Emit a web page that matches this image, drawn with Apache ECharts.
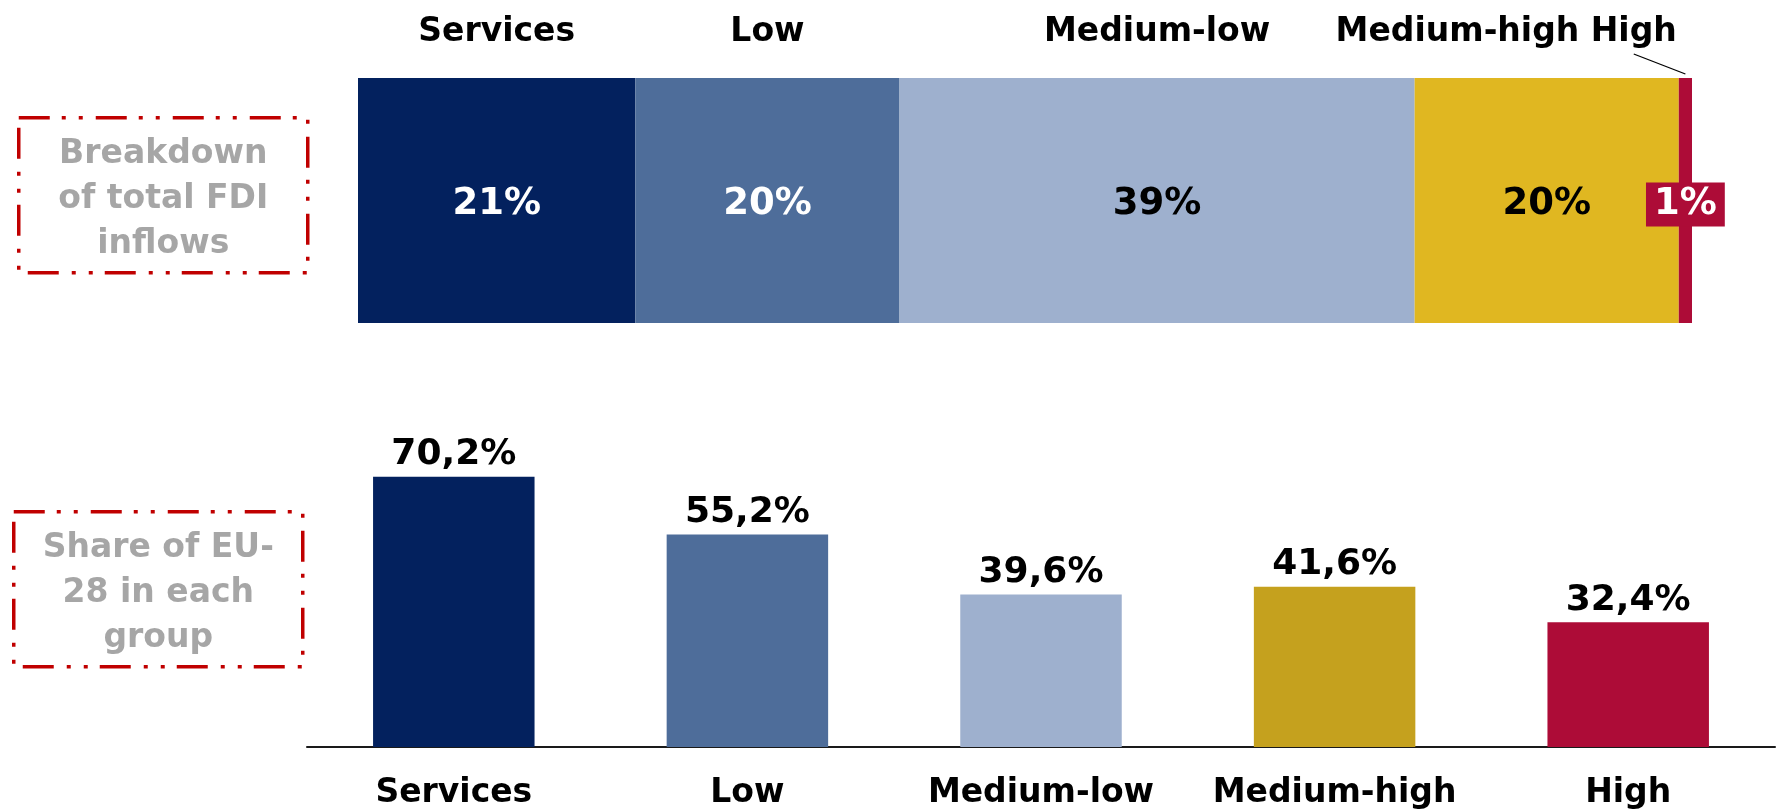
<!DOCTYPE html>
<html>
<head>
<meta charset="utf-8">
<title>FDI inflows by technology group</title>
<script src="https://cdn.jsdelivr.net/npm/echarts@6/dist/echarts.min.js"></script>
<style>
  html, body { margin: 0; padding: 0; background: #ffffff; }
  #chart { width: 1777px; height: 811px; }
</style>
</head>
<body>
<div id="chart"></div>
<script>
// Technology groups
const categories = ['Services', 'Low', 'Medium-low', 'Medium-high', 'High'];
// Breakdown of total FDI inflows (%)
const fdiShares = [21, 20, 39, 20, 1];
// Share of EU-28 in each group (%)
const euShares = [70.2, 55.2, 39.6, 41.6, 32.4];

const topColors = ['#03215e', '#4e6d9a', '#9eb0ce', '#e0b721', '#ad0c37'];
const bottomColors = ['#03215e', '#4e6d9a', '#9eb0ce', '#c5a11e', '#ad0c37'];
const insideLabelColors = ['#ffffff', '#ffffff', '#000000', '#000000', '#ffffff'];

const FONT = '"DejaVu Sans", Verdana, sans-serif';
const NAME_SIZE = 33;

const measureCtx = document.createElement('canvas').getContext('2d');
function textWidth(txt, size) {
  measureCtx.font = 'bold ' + size + 'px ' + FONT;
  return measureCtx.measureText(txt).width;
}

// cumulative start/end of every segment of the stacked bar
const segments = [];
let acc = 0;
fdiShares.forEach((v, i) => { segments.push([acc, acc + v, 0, i]); acc += v; });
const fdiTotal = acc;

const chart = echarts.init(document.getElementById('chart'), null, { renderer: 'canvas' });

const stackSeries = fdiShares.map((v, i) => {
  const last = i === fdiShares.length - 1;
  return {
    type: 'bar',
    name: categories[i],
    stack: 'fdi',
    xAxisIndex: 0,
    yAxisIndex: 0,
    barWidth: '100%',
    data: [v],
    itemStyle: { color: topColors[i] },
    label: {
      show: true,
      position: 'inside',
      offset: [0, 4],
      formatter: '{c}%',
      fontFamily: FONT,
      fontWeight: 'bold',
      fontSize: 37,
      color: insideLabelColors[i],
      backgroundColor: last ? topColors[i] : 'transparent',
      padding: last ? [4, 8, 3, 8] : 0
    },
    silent: true
  };
});

// Group names above the stacked bar; narrow segments get their names shifted left
const nameSeries = {
  type: 'custom',
  xAxisIndex: 0,
  yAxisIndex: 0,
  silent: true,
  z: 5,
  encode: { x: [0, 1], y: 2 },
  data: segments,
  renderItem: function (params, api) {
    const idx = api.value(3);
    const p0 = api.coord([api.value(0), 0]);
    const p1 = api.coord([api.value(1), 0]);
    const band = api.size([0, 1])[1];
    const barTop = p0[1] - band / 2;
    const textY = barTop - 46;
    const n = categories.length;
    const style = (x, align) => ({
      type: 'text',
      style: {
        x: x, y: textY,
        text: categories[idx],
        fill: '#000000',
        font: 'bold ' + NAME_SIZE + 'px ' + FONT,
        align: align,
        verticalAlign: 'middle'
      }
    });
    // last (narrow) segment: name right-aligned before the segment, with a leader line
    const lastP0 = api.coord([segments[n - 1][0], 0]);
    const lastRight = lastP0[0] - 2;
    const lastW = textWidth(categories[n - 1], NAME_SIZE);
    if (idx === n - 1) {
      const mid = (p0[0] + p1[0]) / 2;
      return {
        type: 'group',
        children: [
          style(lastRight, 'right'),
          {
            type: 'line',
            shape: { x1: lastRight - lastW / 2, y1: textY + 22, x2: mid, y2: barTop - 4 },
            style: { stroke: '#000000', lineWidth: 1.3 }
          }
        ]
      };
    }
    if (idx === n - 2) {
      const right = lastRight - lastW - textWidth(' ', NAME_SIZE);
      return style(right, 'right');
    }
    return style((p0[0] + p1[0]) / 2, 'center');
  }
};

function boxGraphic(left, top, width, height, lines) {
  return {
    type: 'group',
    left: left,
    top: top,
    children: [
      {
        type: 'rect',
        shape: { x: 0, y: 0, width: width, height: height },
        style: {
          fill: 'transparent',
          stroke: '#c00000',
          lineWidth: 3.5,
          lineDash: [31, 12, 4, 13, 4, 13]
        }
      },
      {
        type: 'text',
        x: width / 2,
        y: height / 2 + 4,
        style: {
          text: lines.join('\n'),
          fill: '#a6a6a6',
          font: 'bold 33px ' + FONT,
          align: 'center',
          verticalAlign: 'middle',
          lineHeight: 45
        }
      }
    ]
  };
}

const option = {
  animation: false,
  backgroundColor: '#ffffff',
  grid: [
    { left: 358, right: 85, top: 78, height: 245, outerBoundsMode: 'none', containLabel: false },
    { left: 307, right: 2, top: 362, bottom: 64, outerBoundsMode: 'none', containLabel: false }
  ],
  xAxis: [
    { type: 'value', gridIndex: 0, min: 0, max: fdiTotal, show: false },
    {
      type: 'category',
      gridIndex: 1,
      data: categories,
      axisLine: { show: true, lineStyle: { color: '#1a1a1a', width: 2 } },
      axisTick: { show: false },
      axisLabel: {
        margin: 30,
        fontFamily: FONT,
        fontWeight: 'bold',
        fontSize: 33,
        color: '#000000',
        interval: 0
      },
      splitLine: { show: false }
    }
  ],
  yAxis: [
    { type: 'category', gridIndex: 0, data: ['FDI'], show: false },
    { type: 'value', gridIndex: 1, min: 0, max: 100, show: false, splitLine: { show: false } }
  ],
  graphic: [
    boxGraphic(17, 116, 289, 155, ['Breakdown', 'of total FDI', 'inflows']),
    boxGraphic(12, 510, 289, 155, ['Share of EU-', '28 in each', 'group'])
  ],
  series: stackSeries.concat([
    nameSeries,
    {
      type: 'bar',
      xAxisIndex: 1,
      yAxisIndex: 1,
      barWidth: '55%',
      silent: true,
      data: euShares.map((v, i) => ({ value: v, itemStyle: { color: bottomColors[i] } })),
      label: {
        show: true,
        position: 'top',
        distance: 4,
        fontFamily: FONT,
        fontWeight: 'bold',
        fontSize: 36,
        color: '#000000',
        formatter: p => p.value.toFixed(1).replace('.', ',') + '%'
      }
    }
  ])
};

chart.setOption(option);
</script>
</body>
</html>
